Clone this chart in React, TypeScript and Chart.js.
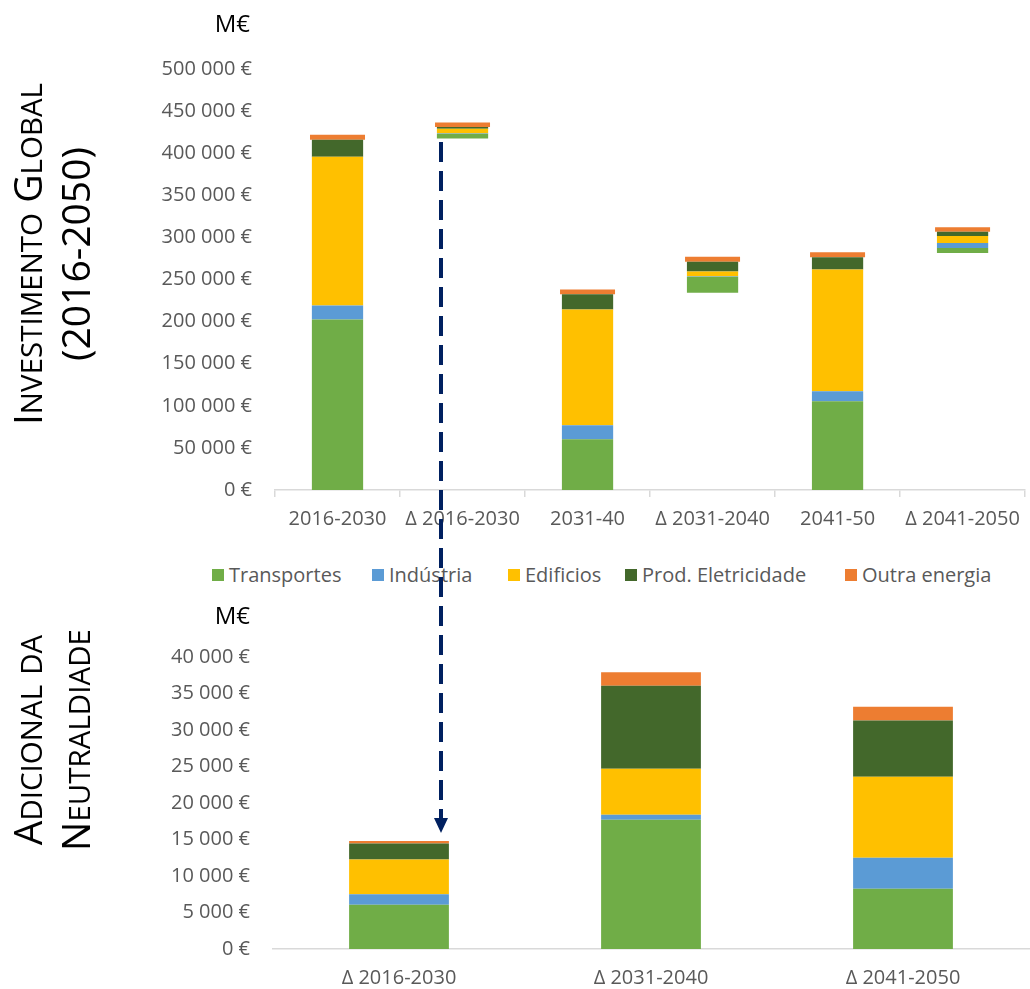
import React, { useEffect, useRef } from 'react';
import { Chart, registerables } from 'chart.js';

Chart.register(...registerables);

const FONT = "'Open Sans', 'Noto Sans', sans-serif";
const TICK_COLOR = '#595959';
const AXIS_COLOR = '#d9d9d9';

// Series
const seriesNames = ['Transportes', 'Indústria', 'Edificios', 'Prod. Eletricidade', 'Outra energia'];
const seriesColors = ['#70AD47', '#5B9BD5', '#FFC000', '#43682B', '#ED7D31'];

// Top chart: global investment (M€)
const topCategories = ['2016-2030', 'Δ 2016-2030', '2031-40', 'Δ 2031-2040', '2041-50', 'Δ 2041-2050'];
const topBase = [0, 417400, 0, 234200, 0, 281500];
const topTransportes = [202600, 5600, 60400, 19000, 105500, 5900];
const topIndustria = [16400, 800, 16600, 600, 11800, 5900];
const topEdificios = [176700, 5200, 137500, 5700, 144500, 8300];
const topProdEletricidade = [20200, 2000, 18100, 11500, 14600, 5000];
const topOutraEnergia = [5900, 5500, 5600, 5900, 5900, 5500];
const topAxisMax = 500000;
const topAxisStep = 50000;

// Bottom chart: additional investment for neutrality (M€)
const bottomCategories = ['Δ 2016-2030', 'Δ 2031-2040', 'Δ 2041-2050'];
const bottomTransportes = [6050, 17700, 8250];
const bottomIndustria = [1450, 700, 4250];
const bottomEdificios = [4750, 6300, 11100];
const bottomProdEletricidade = [2200, 11350, 7700];
const bottomOutraEnergia = [330, 1850, 1900];
const bottomAxisMax = 40000;
const bottomAxisStep = 5000;

// Legend item left positions (layout)
const legendX = [212, 372, 508, 625, 845];

const euro = (v: number) =>
  `${Math.round(v).toString().replace(/\B(?=(\d{3})+(?!\d))/g, ' ')} €`;

const tickFont = { family: FONT, size: 20 };

// Small-caps style: first letter of each word large, rest uppercase smaller
function SmallCaps({ text, big, small }: { text: string; big: number; small: number }) {
  const parts: React.ReactNode[] = [];
  text.split(' ').forEach((w, wi) => {
    if (wi > 0) parts.push(<span key={`s${wi}`} style={{ fontSize: big }}> </span>);
    const first = w[0];
    const rest = w.slice(1);
    const firstIsUpper = first === first.toUpperCase() && /[A-Za-z]/.test(first);
    if (firstIsUpper) {
      parts.push(<span key={`b${wi}`} style={{ fontSize: big }}>{first}</span>);
      parts.push(<span key={`r${wi}`} style={{ fontSize: small }}>{rest.toUpperCase()}</span>);
    } else if (/[a-z]/.test(w)) {
      parts.push(<span key={`r${wi}`} style={{ fontSize: small }}>{w.toUpperCase()}</span>);
    } else {
      parts.push(<span key={`r${wi}`} style={{ fontSize: big }}>{w}</span>);
    }
  });
  return <>{parts}</>;
}

function VTitle({ lines, cx, cy }: { lines: string[]; cx: number; cy: number }) {
  return (
    <div
      style={{
        position: 'absolute',
        left: cx - 250,
        top: cy - 48,
        width: 500,
        height: 96,
        transform: 'rotate(-90deg)',
        transformOrigin: '50% 50%',
        textAlign: 'center',
        fontFamily: FONT,
        fontSize: 39,
        lineHeight: '48px',
        color: '#000',
        whiteSpace: 'nowrap',
      }}
    >
      {lines.map((l) => (
        <div key={l} style={{ height: 48 }}>
          <SmallCaps text={l} big={39} small={29.5} />
        </div>
      ))}
    </div>
  );
}

function UnitLabel({ top }: { top: number }) {
  return (
    <div
      style={{
        position: 'absolute',
        left: 0,
        top,
        width: 250,
        textAlign: 'right',
        fontFamily: FONT,
        fontSize: 24,
        lineHeight: '24px',
        color: '#000',
      }}
    >
      M€
    </div>
  );
}

export default function App() {
  const topRef = useRef<HTMLCanvasElement>(null);
  const botRef = useRef<HTMLCanvasElement>(null);

  useEffect(() => {
    const topSeries = [topTransportes, topIndustria, topEdificios, topProdEletricidade, topOutraEnergia];
    const top = new Chart(topRef.current!, {
      type: 'bar',
      data: {
        labels: topCategories,
        datasets: [
          {
            label: 'base',
            data: topBase,
            backgroundColor: 'rgba(0,0,0,0)',
            barPercentage: 0.41,
            categoryPercentage: 1,
          },
          ...topSeries.map((d, i) => ({
            label: seriesNames[i],
            data: d,
            backgroundColor: seriesColors[i],
            barPercentage: i === 4 ? 0.44 : 0.41,
            categoryPercentage: 1,
          })),
        ],
      },
      options: {
        responsive: false,
        animation: false,
        layout: { padding: { left: 125, right: 1, top: 28, bottom: 9 } },
        plugins: { legend: { display: false }, tooltip: { enabled: false } },
        scales: {
          x: {
            stacked: true,
            grid: {
              display: true,
              drawOnChartArea: false,
              drawTicks: true,
              tickLength: 7,
              color: AXIS_COLOR,
              lineWidth: 1.5,
              offset: true,
            },
            border: { display: true, color: AXIS_COLOR, width: 1.5 },
            ticks: {
              color: TICK_COLOR,
              font: tickFont,
              padding: 10,
              maxRotation: 0,
              minRotation: 0,
              autoSkip: false,
            },
          },
          y: {
            stacked: true,
            min: 0,
            max: topAxisMax,
            afterFit: (s: any) => {
              s.width = 150;
            },
            grid: { display: false, drawTicks: false },
            border: { display: false },
            ticks: {
              stepSize: topAxisStep,
              padding: 23,
              color: TICK_COLOR,
              font: tickFont,
              callback: (v: any) => euro(Number(v)),
            },
          },
        },
      },
    });

    const botSeries = [bottomTransportes, bottomIndustria, bottomEdificios, bottomProdEletricidade, bottomOutraEnergia];
    const bot = new Chart(botRef.current!, {
      type: 'bar',
      data: {
        labels: bottomCategories,
        datasets: botSeries.map((d, i) => ({
          label: seriesNames[i],
          data: d,
          backgroundColor: seriesColors[i],
          barPercentage: 0.396,
          categoryPercentage: 1,
        })),
      },
      options: {
        responsive: false,
        animation: false,
        layout: { padding: { left: 123, right: 1, top: 26, bottom: 1 } },
        plugins: { legend: { display: false }, tooltip: { enabled: false } },
        scales: {
          x: {
            stacked: true,
            grid: { display: false, drawTicks: false },
            border: { display: true, color: AXIS_COLOR, width: 1.5 },
            ticks: {
              color: TICK_COLOR,
              font: tickFont,
              padding: 17,
              maxRotation: 0,
              minRotation: 0,
              autoSkip: false,
            },
          },
          y: {
            stacked: true,
            min: 0,
            max: bottomAxisMax,
            afterFit: (s: any) => {
              s.width = 150;
            },
            grid: { display: false, drawTicks: false },
            border: { display: false },
            ticks: {
              stepSize: bottomAxisStep,
              padding: 23,
              color: TICK_COLOR,
              font: tickFont,
              callback: (v: any) => euro(Number(v)),
            },
          },
        },
      },
    });

    return () => {
      top.destroy();
      bot.destroy();
    };
  }, []);

  return (
    <div
      style={{
        position: 'absolute',
        left: 0,
        top: 0,
        width: 1030,
        height: 989,
        overflow: 'hidden',
        background: '#fff',
      }}
    >
      <canvas
        ref={topRef}
        width={1030}
        height={516}
        style={{ position: 'absolute', left: 0, top: 34, width: 1030, height: 516 }}
      />
      <canvas
        ref={botRef}
        width={1030}
        height={386}
        style={{ position: 'absolute', left: 0, top: 622, width: 1030, height: 386 }}
      />
      <UnitLabel top={11} />
      <UnitLabel top={603} />
      <VTitle lines={['Investimento Global', '(2016-2050)']} cx={51} cy={254} />
      <VTitle lines={['Adicional da', 'Neutraldiade']} cx={51} cy={740} />
      {seriesNames.map((n, i) => (
        <div
          key={n}
          style={{
            position: 'absolute',
            left: legendX[i],
            top: 563,
            height: 24,
            display: 'flex',
            alignItems: 'center',
            fontFamily: FONT,
            fontSize: 20,
            lineHeight: '24px',
            color: TICK_COLOR,
            whiteSpace: 'nowrap',
          }}
        >
          <span
            style={{
              display: 'inline-block',
              width: 12,
              height: 12,
              background: seriesColors[i],
              marginRight: 5,
            }}
          />
          <span>{n}</span>
        </div>
      ))}
      <svg
        width={1030}
        height={989}
        style={{ position: 'absolute', left: 0, top: 0, pointerEvents: 'none' }}
      >
        <line
          x1={441}
          y1={142}
          x2={441}
          y2={819}
          stroke="#002060"
          strokeWidth={4}
          strokeDasharray="20 9"
        />
        <polygon points="434,818 448,818 441,833" fill="#002060" />
      </svg>
    </div>
  );
}
